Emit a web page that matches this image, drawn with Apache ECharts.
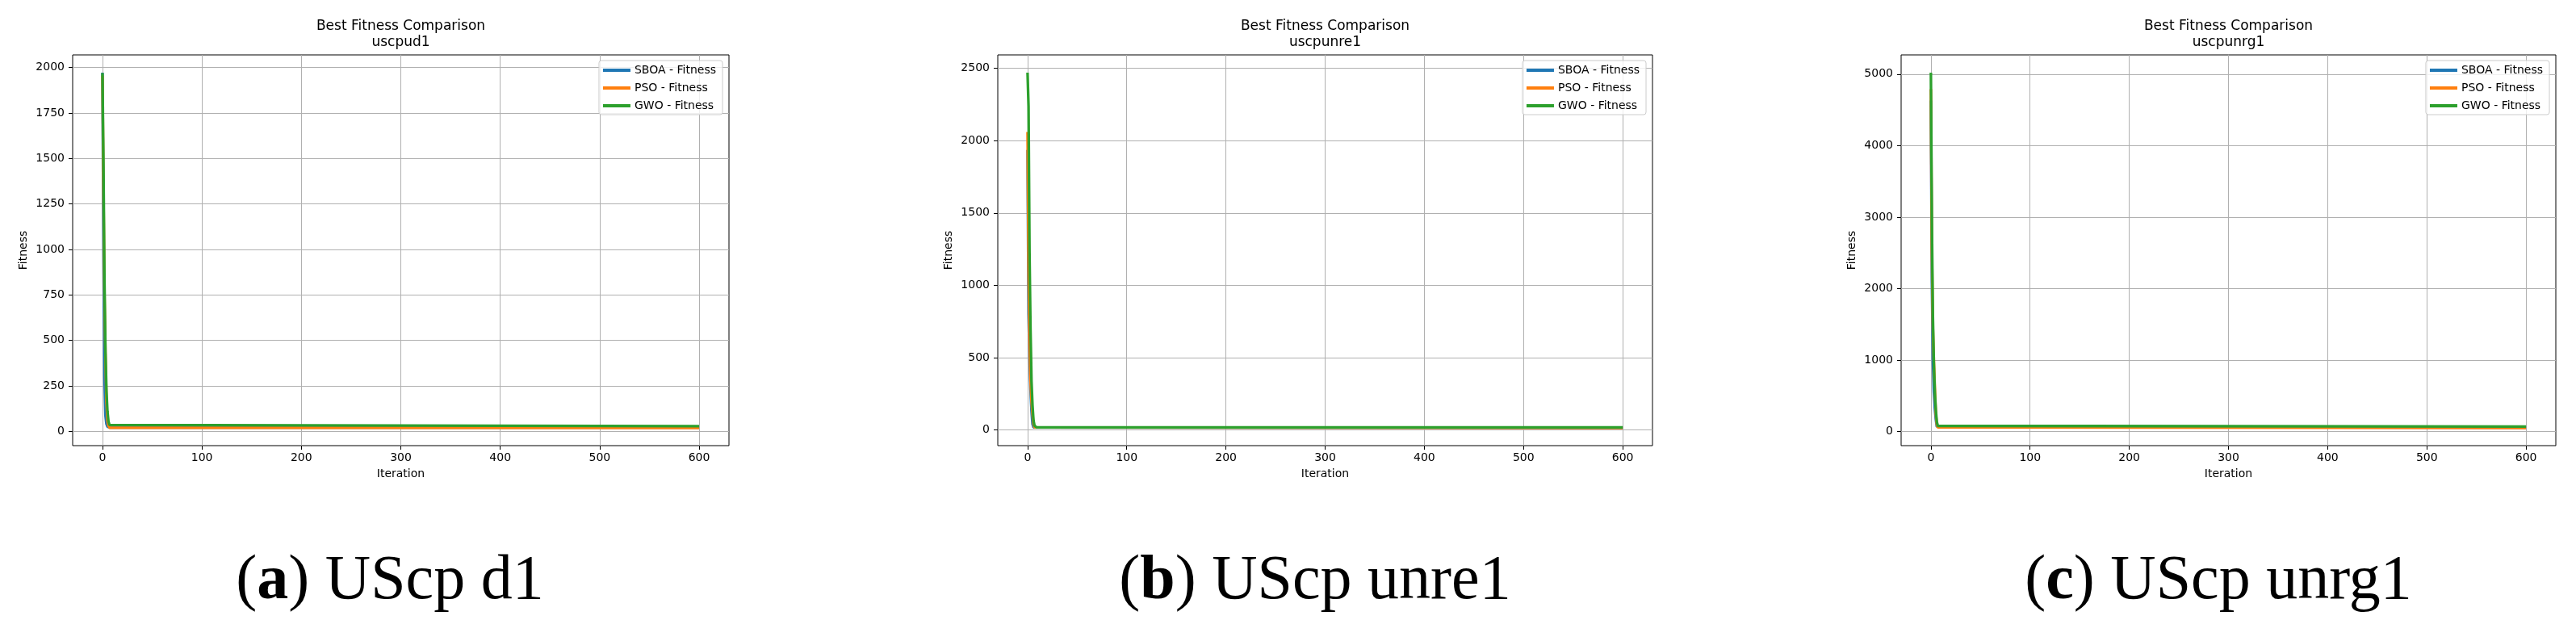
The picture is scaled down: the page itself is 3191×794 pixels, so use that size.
<!DOCTYPE html>
<html>
<head>
<meta charset="utf-8">
<script src="https://cdn.jsdelivr.net/npm/echarts@6/dist/echarts.min.js"></script>
<style>
html, body {margin: 0; padding: 0; background: #fff;}
#main {width: 3191px; height: 794px;}
</style>
</head>
<body>
<div id="main"></div>
<script>
// best fitness per iteration; after the last listed
// iteration every curve stays flat until iteration 600
var lastIteration = 600;
var seriesNames = ['SBOA - Fitness', 'PSO - Fitness', 'GWO - Fitness'];
var seriesColors = ['#1f77b4', '#ff7f0e', '#2ca02c'];
var problems = ['uscpud1', 'uscpunre1', 'uscpunrg1'];
var captionLetters = ['a', 'b', 'c'];
var captionNames = ['UScp d1', 'UScp unre1', 'UScp unrg1'];

var sboaD1 = [1972, 960, 300, 85, 40, 26, 22, 21];
var psoD1 = [1955, 1300, 740, 420, 160, 60, 30, 20, 19];
var gwoD1 = [1970, 1450, 826, 437, 221, 110, 55, 35, 28];

var sboaUnre1 = [1935, 800, 500, 280, 130, 40, 18, 15];
var psoUnre1 = [2060, 1120, 600, 340, 200, 110, 40, 18, 14];
var gwoUnre1 = [2470, 2240, 1220, 690, 335, 170, 65, 30, 20, 18];

var sboaUnrg1 = [4630, 2120, 1010, 550, 320, 170, 70, 55];
var psoUnrg1 = [4790, 2530, 1460, 990, 600, 250, 100, 58, 52];
var gwoUnrg1 = [5020, 2940, 1630, 960, 545, 300, 135, 80, 70];

var xTicks = [0, 100, 200, 300, 400, 500, 600];
var yTicksD1 = [0, 250, 500, 750, 1000, 1250, 1500, 1750, 2000];
var yTicksUnre1 = [0, 500, 1000, 1500, 2000, 2500];
var yTicksUnrg1 = [0, 1000, 2000, 3000, 4000, 5000];

var panelData = [
    [sboaD1, psoD1, gwoD1],
    [sboaUnre1, psoUnre1, gwoUnre1],
    [sboaUnrg1, psoUnrg1, gwoUnrg1]
];
var panelYTicks = [yTicksD1, yTicksUnre1, yTicksUnrg1];

// plot boxes in px
var boxes = [
    {left: 90, width: 813},
    {left: 1236, width: 811},
    {left: 2355, width: 811}
];
var boxTop = 68;
var boxHeight = 484;
var captionX = [483, 1629, 2748];

var font = 'DejaVu Sans';

function curve(values) {
    var pts = values.map(function (v, i) { return [i, v]; });
    pts.push([lastIteration, values[values.length - 1]]);
    return pts;
}

function plain(v) {
    return String(v);
}

var grids = [], xAxes = [], yAxes = [], series = [], legends = [], graphics = [];

boxes.forEach(function (b, p) {
    var all = [].concat.apply([], panelData[p]);
    var lo = Math.min.apply(null, all), hi = Math.max.apply(null, all);
    var pad = (hi - lo) * 0.05;

    grids.push({
        left: b.left, top: boxTop, width: b.width, height: boxHeight,
        show: true, borderColor: '#000', borderWidth: 1,
        backgroundColor: 'transparent', containLabel: false
    });
    xAxes.push({
        type: 'value', gridIndex: p,
        min: -lastIteration * 0.05, max: lastIteration * 1.05,
        axisLine: {show: false, onZero: false},
        axisTick: {show: true, length: 5, customValues: xTicks, lineStyle: {color: '#000'}},
        axisLabel: {customValues: xTicks, formatter: plain, margin: 8, fontSize: 14, fontFamily: font, color: '#000'},
        splitLine: {show: true, lineStyle: {color: '#b0b0b0', width: 1}},
        name: 'Iteration', nameLocation: 'middle', nameGap: 28,
        nameTextStyle: {fontSize: 14, fontFamily: font, color: '#000'}
    });
    yAxes.push({
        type: 'value', gridIndex: p,
        min: lo - pad, max: hi + pad,
        axisLine: {show: false, onZero: false},
        axisTick: {show: true, length: 5, customValues: panelYTicks[p], lineStyle: {color: '#000'}},
        axisLabel: {customValues: panelYTicks[p], formatter: plain, margin: 10, fontSize: 14, fontFamily: font, color: '#000'},
        splitLine: {show: true, lineStyle: {color: '#b0b0b0', width: 1}},
        name: 'Fitness', nameLocation: 'middle', nameGap: 54,
        nameTextStyle: {fontSize: 14, fontFamily: font, color: '#000'}
    });
    panelData[p].forEach(function (vals, s) {
        series.push({
            type: 'line', name: seriesNames[s],
            xAxisIndex: p, yAxisIndex: p,
            data: curve(vals),
            showSymbol: false, symbol: 'none',
            lineStyle: {width: 3.3, color: seriesColors[s]},
            itemStyle: {color: seriesColors[s]},
            emphasis: {disabled: true},
            z: 2 + s
        });
    });
    legends.push({
        orient: 'vertical',
        right: 3191 - (b.left + b.width) + 8, top: 75,
        data: seriesNames,
        icon: 'rect', itemWidth: 34, itemHeight: 4, itemGap: 8,
        padding: [5, 8, 4, 5],
        borderColor: '#cccccc', borderWidth: 1, borderRadius: 3,
        backgroundColor: 'rgba(255,255,255,0.8)',
        textStyle: {fontSize: 14, fontFamily: font, color: '#000'}
    });
    graphics.push({
        type: 'text', x: b.left + b.width / 2, y: 43,
        style: {
            text: 'Best Fitness Comparison\n' + problems[p],
            font: '17px "DejaVu Sans"', lineHeight: 20,
            align: 'center', verticalAlign: 'middle', fill: '#000'
        }
    });
    graphics.push({
        type: 'text', x: captionX[p], y: 721,
        style: {
            text: '({b|' + captionLetters[p] + '}) ' + captionNames[p],
            font: '78px "Liberation Serif"',
            rich: {b: {fontWeight: 'bold', fontSize: 78, fontFamily: 'Liberation Serif'}},
            align: 'center', verticalAlign: 'middle', fill: '#000'
        }
    });
});

var chart = echarts.init(document.getElementById('main'));
chart.setOption({
    animation: false,
    backgroundColor: '#fff',
    grid: grids,
    xAxis: xAxes,
    yAxis: yAxes,
    legend: legends,
    series: series,
    graphic: graphics
});
</script>
</body>
</html>
